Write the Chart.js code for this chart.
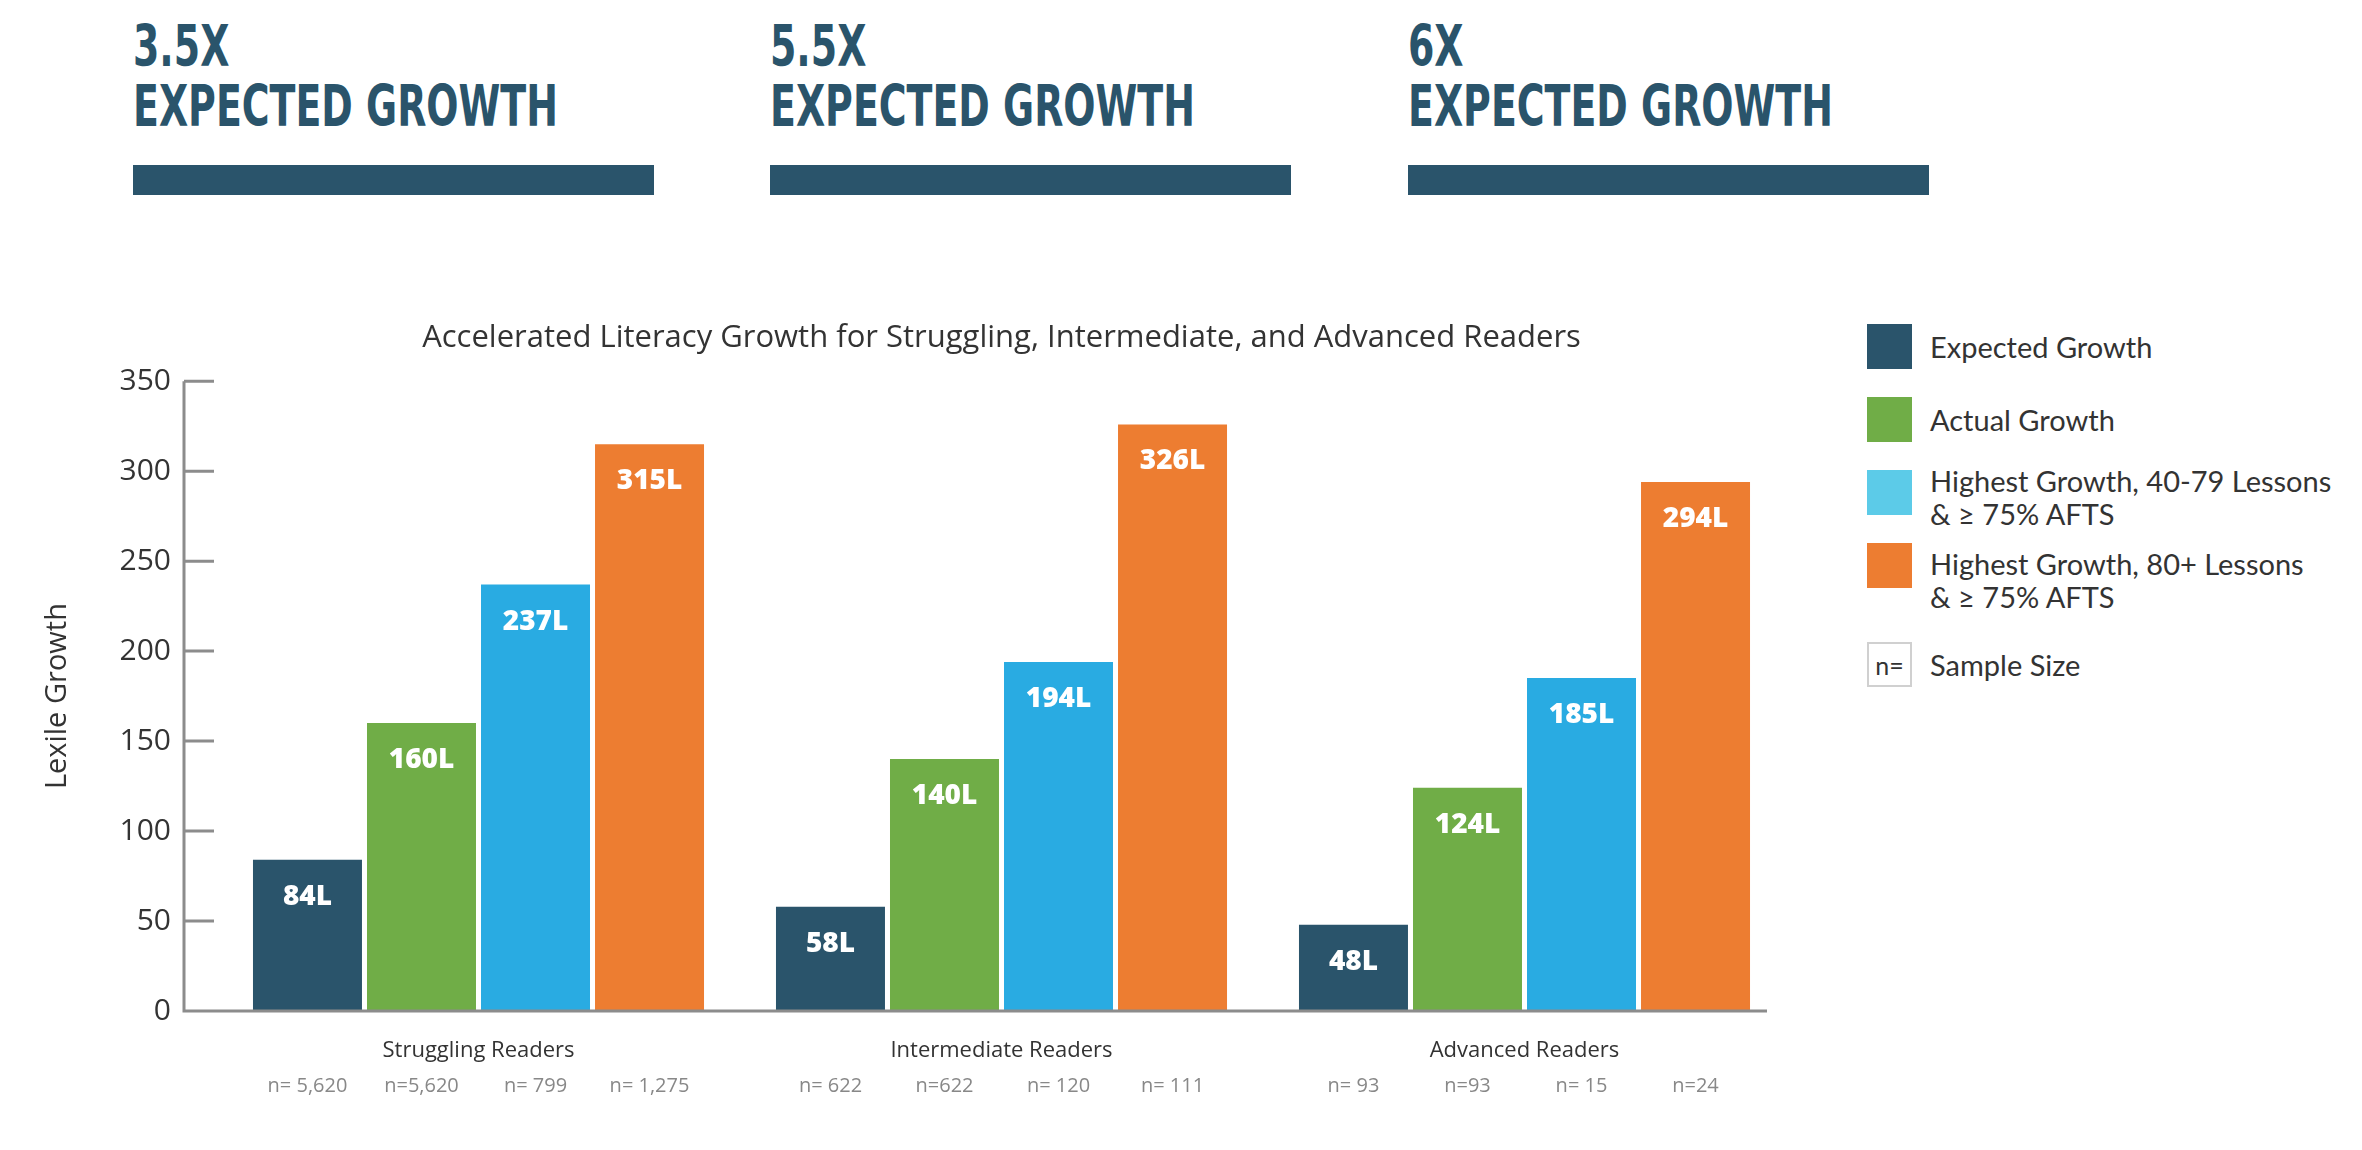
<!DOCTYPE html>
<html>
<head>
<meta charset="utf-8">
<script src="https://cdn.jsdelivr.net/npm/chart.js@4.4.1/dist/chart.umd.min.js"></script>
<style>
  body { margin: 0; background: #fff; width: 2362px; height: 1150px; position: relative; overflow: hidden; }
  .hdr { position: absolute; top: 16px; font-family: "DejaVu Sans", sans-serif;
         font-weight: bold; font-size: 57px; line-height: 60px; color: #2a546b; white-space: pre; }
  .hdr .txt { display: inline-block; transform: scaleX(0.665); transform-origin: 0 0; }
  .hdr .rule { position: absolute; left: 0; top: 149px; width: 521px; height: 30px; background: #2a546b; }
  #chartBox { position: absolute; left: 0; top: 0; width: 1820px; height: 1150px; }
  #legend { position: absolute; left: 1867px; top: 324px; font-family: Lato, "Open Sans", sans-serif; font-size: 29px; color: #333; }
  .item { display: flex; align-items: flex-start; height: 73px; }
  .item.tall { height: 99px; }
  .sw { width: 45px; height: 45px; margin-right: 18px; flex: none; box-sizing: border-box; }
  .item .txt { line-height: 33px; white-space: pre-line; }
  .nbox { border: 2px solid #d0d0d0; background: #fff; font-size: 25px; display: flex; align-items: center; justify-content: center; }
</style>
</head>
<body>
<div id="headers"></div>
<div id="chartBox"><canvas id="litChart"></canvas></div>
<div id="legend"></div>
<script>
// chart data
const categories = ["Struggling Readers", "Intermediate Readers", "Advanced Readers"];
const expectedGrowth = [84, 58, 48];
const actualGrowth = [160, 140, 124];
const highest4079 = [237, 194, 185];
const highest80 = [315, 326, 294];

const nExpected = ["n= 5,620", "n= 622", "n= 93"];
const nActual = ["n=5,620", "n=622", "n=93"];
const n4079 = ["n= 799", "n= 120", "n= 15"];
const n80 = ["n= 1,275", "n= 111", "n=24"];

const seriesNames = [
  "Expected Growth",
  "Actual Growth",
  "Highest Growth, 40-79 Lessons\n& \u2265 75% AFTS",
  "Highest Growth, 80+ Lessons\n& \u2265 75% AFTS"
];
const barColors = ["#2a546b", "#70ad47", "#29abe2", "#ed7d31"];
const legendColors = ["#2a546b", "#70ad47", "#5ccbe8", "#ed7d31"];
const legendTextShift = [6, 6, -6, 4];
const headerMultiples = ["3.5X", "5.5X", "6X"];
const headerLefts = [133, 770, 1408];

// headers
const hdrs = document.getElementById("headers");
headerMultiples.forEach((m, i) => {
  const d = document.createElement("div");
  d.className = "hdr";
  d.style.left = headerLefts[i] + "px";
  const t = document.createElement("span");
  t.className = "txt";
  t.textContent = m + "\nEXPECTED GROWTH";
  d.appendChild(t);
  const r = document.createElement("div");
  r.className = "rule";
  d.appendChild(r);
  hdrs.appendChild(d);
});

// legend
const leg = document.getElementById("legend");
seriesNames.forEach((name, i) => {
  const it = document.createElement("div");
  it.className = "item" + (i === 3 ? " tall" : "");
  const sw = document.createElement("div");
  sw.className = "sw";
  sw.style.background = legendColors[i];
  const tx = document.createElement("div");
  tx.className = "txt";
  tx.style.marginTop = legendTextShift[i] + "px";
  tx.textContent = name;
  it.appendChild(sw);
  it.appendChild(tx);
  leg.appendChild(it);
});
const ss = document.createElement("div");
ss.className = "item";
ss.style.alignItems = "center";
ss.style.height = "45px";
ss.innerHTML = '<div class="sw nbox">n=</div><div>Sample Size</div>';
leg.appendChild(ss);

const sampleSizes = [nExpected, nActual, n4079, n80];

// axis lines with inward ticks, value labels, sample sizes
const decorPlugin = {
  id: "decor",
  afterDatasetsDraw(chart) {
    const { ctx, chartArea, scales } = chart;
    const y = scales.y;
    const x0 = chartArea.left - 33;
    ctx.save();
    ctx.strokeStyle = "#8c8c8c";
    ctx.lineWidth = 3;
    ctx.beginPath();
    ctx.moveTo(x0, y.getPixelForValue(350));
    ctx.lineTo(x0, y.getPixelForValue(0));
    ctx.lineTo(chartArea.right - 19, y.getPixelForValue(0));
    y.ticks.forEach(t => {
      const py = y.getPixelForValue(t.value);
      ctx.moveTo(x0, py);
      ctx.lineTo(x0 + 30, py);
    });
    ctx.stroke();

    chart.data.datasets.forEach((ds, di) => {
      const meta = chart.getDatasetMeta(di);
      meta.data.forEach((bar, i) => {
        ctx.fillStyle = "#fff";
        ctx.font = "800 28px 'Open Sans'";
        ctx.textAlign = "center";
        ctx.textBaseline = "middle";
        ctx.fillText(ds.data[i] + "L", bar.x, bar.y + 37);
        ctx.fillStyle = "#888";
        ctx.font = "20px 'Open Sans'";
        ctx.fillText(sampleSizes[di][i], bar.x, chartArea.bottom + 75);
      });
    });
    ctx.restore();
  }
};

new Chart(document.getElementById("litChart"), {
  type: "bar",
  data: {
    labels: categories,
    datasets: [
      { label: "Expected Growth", data: expectedGrowth, backgroundColor: barColors[0] },
      { label: "Actual Growth", data: actualGrowth, backgroundColor: barColors[1] },
      { label: "Highest Growth, 40-79 Lessons & ≥ 75% AFTS", data: highest4079, backgroundColor: barColors[2] },
      { label: "Highest Growth, 80+ Lessons & ≥ 75% AFTS", data: highest80, backgroundColor: barColors[3] }
    ]
  },
  options: {
    responsive: true,
    maintainAspectRatio: false,
    animation: false,
    categoryPercentage: 0.872,
    barPercentage: 0.956,
    layout: { padding: { top: 300, left: 0, right: 34, bottom: 0 } },
    plugins: {
      legend: { display: false },
      tooltip: { enabled: false },
      title: {
        display: true,
        fullSize: false,
        text: "Accelerated Literacy Growth for Struggling, Intermediate, and Advanced Readers",
        color: "#333",
        font: { family: "'Open Sans'", size: 31, weight: "normal" },
        padding: { top: 20, bottom: 24 }
      }
    },
    scales: {
      x: {
        grid: { display: false },
        border: { display: false },
        ticks: { color: "#333", font: { family: "'Open Sans'", size: 22 }, padding: 19 },
        afterFit: s => { s.height = 139; }
      },
      y: {
        min: 0,
        max: 350,
        grid: { display: false },
        border: { display: false },
        ticks: { stepSize: 50, color: "#333", font: { family: "'Open Sans'", size: 30 }, padding: 38 },
        title: {
          display: true,
          text: "Lexile Growth",
          color: "#333",
          font: { family: "'Open Sans'", size: 29 },
          padding: { top: 40, bottom: 0 }
        },
        afterFit: s => { s.width = 217; }
      }
    }
  },
  plugins: [decorPlugin]
});
</script>
</body>
</html>
